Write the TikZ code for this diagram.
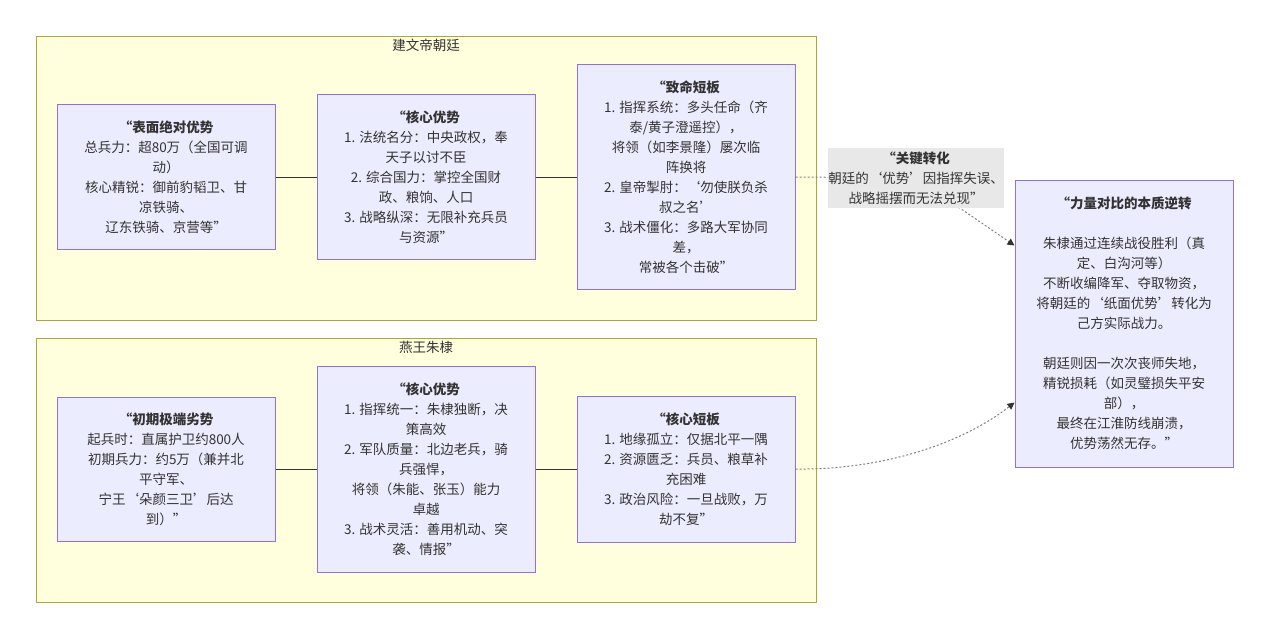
\documentclass[tikz,border=0pt]{standalone}
\usepackage{fontspec}
\setmainfont{Noto Sans CJK SC}
\usetikzlibrary{arrows.meta, positioning}

\definecolor{nodefill}{HTML}{ECECFF}
\definecolor{nodeline}{HTML}{9370DB}
\definecolor{groupfill}{HTML}{FFFFDE}
\definecolor{groupline}{HTML}{AAAA33}
\definecolor{labelfill}{HTML}{E8E8E8}
\definecolor{textgray}{HTML}{333333}

\begin{document}
\begin{tikzpicture}[
  x=1pt, y=-1pt,
  font=\fontsize{13.5pt}{20pt}\selectfont,
  text=textgray,
  group/.style = {draw=groupline, fill=groupfill, line width=1pt, minimum width=780pt, inner sep=0pt},
  block/.style = {draw=nodeline, fill=nodefill, line width=1pt, minimum width=218pt, align=center, inner sep=6pt},
  keylabel/.style = {fill=labelfill, align=center, inner xsep=0pt, inner ysep=2pt, minimum height=60pt},
  link/.style = {draw=textgray, line width=1pt},
  flow/.style = {draw=gray, line width=1pt, dash pattern=on 2pt off 2pt, -{Triangle[width=7pt,length=7pt,color=textgray]}},
  node distance=41pt
]
  \useasboundingbox (0,0) rectangle (1269,638);

  % Court cluster
  \node[group, minimum height=284pt] (court) at (426,178) {};
  \node[below=0pt of court.north] (courttitle) {建文帝朝廷};

  % Yan cluster
  \node[group, minimum height=264pt] (yan) at (426,470) {};
  \node[below=0pt of yan.north] (yantitle) {燕王朱棣};

  % Court: apparent superiority
  \node[block, minimum height=145pt] (a1) at (166,177) {
    \textbf{“表面绝对优势}\\
    总兵力：超80万（全国可调\\
    动）\\
    核心精锐：御前豹韬卫、甘\\
    凉铁骑、\\
    辽东铁骑、京营等”
  };

  % Court: core strengths
  \node[block, minimum height=165pt, right=of a1] (a2) {
    \textbf{“核心优势}\\
    1. 法统名分：中央政权，奉\\
    天子以讨不臣\\
    2. 综合国力：掌控全国财\\
    政、粮饷、人口\\
    3. 战略纵深：无限补充兵员\\
    与资源”
  };

  % Court: fatal weaknesses
  \node[block, minimum height=225pt, right=of a2] (a3) {
    \textbf{“致命短板}\\
    1. 指挥系统：多头任命（齐\\
    泰/黄子澄遥控），\\
    将领（如李景隆）屡次临\\
    阵换将\\
    2. 皇帝掣肘：‘勿使朕负杀\\
    叔之名’\\
    3. 战术僵化：多路大军协同\\
    差，\\
    常被各个击破”
  };

  % Yan: initial weakness
  \node[block, minimum height=144pt] (b1) at (166,469) {
    \textbf{“初期极端劣势}\\
    起兵时：直属护卫约800人\\
    初期兵力：约5万（兼并北\\
    平守军、\\
    宁王‘朵颜三卫’后达\\
    到）”
  };

  % Yan: core strengths
  \node[block, minimum height=206pt, right=of b1] (b2) {
    \textbf{“核心优势}\\
    1. 指挥统一：朱棣独断，决\\
    策高效\\
    2. 军队质量：北边老兵，骑\\
    兵强悍，\\
    将领（朱能、张玉）能力\\
    卓越\\
    3. 战术灵活：善用机动、突\\
    袭、情报”
  };

  % Yan: core weaknesses
  \node[block, minimum height=146pt, right=of b2] (b3) {
    \textbf{“核心短板}\\
    1. 地缘孤立：仅据北平一隅\\
    2. 资源匮乏：兵员、粮草补\\
    充困难\\
    3. 政治风险：一旦战败，万\\
    劫不复”
  };

  % Outcome
  \node[block, minimum height=287pt] (result) at (1124,323.5) {
    \textbf{“力量对比的本质逆转}\\[20pt]
    朱棣通过连续战役胜利（真\\
    定、白沟河等）\\
    不断收编降军、夺取物资，\\
    将朝廷的‘纸面优势’转化为\\
    己方实际战力。\\[20pt]
    朝廷则因一次次丧师失地，\\
    精锐损耗（如灵璧损失平安\\
    部），\\
    最终在江淮防线崩溃，\\
    优势荡然无存。”
  };

  \coordinate (keypos) at (916,178);

  % links inside clusters
  \draw[link] (a1) -- (a2);
  \draw[link] (a2) -- (a3);
  \draw[link] (b1) -- (b2);
  \draw[link] (b2) -- (b3);

  % weaknesses -> outcome
  \draw[flow] (a3.east) -- (keypos) -- ([yshift=78pt]result.west);
  \draw[flow] (b3.east) .. controls (880,470) and (960,445) .. ([yshift=-79pt]result.west);

  % key turn label
  \node[keylabel] (key) at (keypos) {
    \textbf{“关键转化}\\
    朝廷的‘优势’因指挥失误、\\
    战略摇摆而无法兑现”
  };

\end{tikzpicture}
\end{document}
